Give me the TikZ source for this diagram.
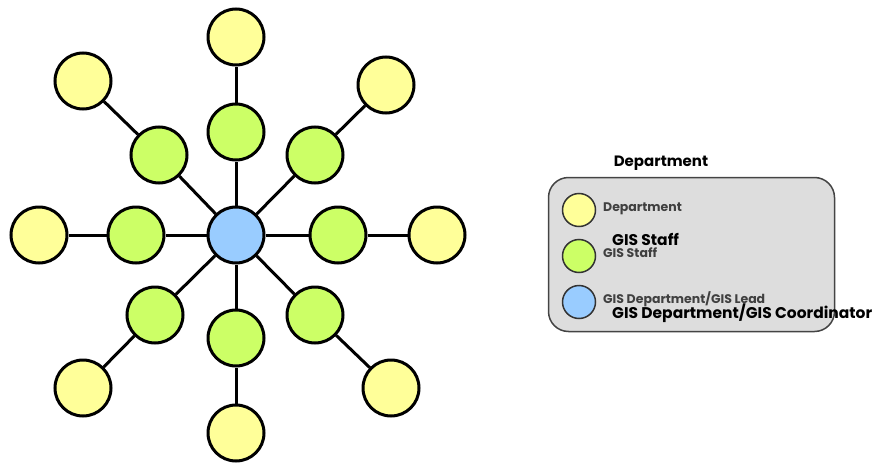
\documentclass[tikz,border=0pt]{standalone}
\usepackage{fontspec}
\setmainfont{Poppins}
\definecolor{deptyellow}{HTML}{FFFF99}
\definecolor{staffgreen}{HTML}{CCFF66}
\definecolor{leadblue}{HTML}{99CCFF}
\definecolor{legendfill}{HTML}{DDDDDD}
\definecolor{legendedge}{HTML}{444444}
\begin{document}
\begin{tikzpicture}[x=1pt,y=-1pt,
  hub/.style={circle,draw=black,line width=3pt,minimum size=56pt,inner sep=0pt},
  dept/.style={hub,fill=deptyellow},
  staff/.style={hub,fill=staffgreen},
  lead/.style={hub,fill=leadblue},
  link/.style={draw=black,line width=3pt},
  keydot/.style={circle,draw=black!80,line width=1.5pt,minimum size=33pt,inner sep=0pt},
  keysmall/.style={font=\bfseries\fontsize{12.5}{13}\selectfont,text=black!75,anchor=west,inner sep=0pt},
  keybig/.style={font=\bfseries\fontsize{15.5}{16}\selectfont,text=black,anchor=west,inner sep=0pt}]
\useasboundingbox (0,0) rectangle (881,463);
% network: coordinator, staff ring, departments
\node[lead] (c) at (236,235) {};
\foreach \n/\gx/\gy/\yx/\yy in {n/236/132/236/37, s/236/338/236/433,
    w/136/235/39/235, e/338/235/437/235,
    nw/159/155/83/81, ne/315/155/386/85,
    sw/155/315/83/388, se/315/315/391/388} {
  \node[staff] (g\n) at (\gx,\gy) {};
  \node[dept] (y\n) at (\yx,\yy) {};
}
\foreach \n in {n,s,w,e,nw,ne,sw,se} {
  \path[link] (c) -- (g\n);
  \path[link] (g\n) -- (y\n);
}
% legend
\node[font=\bfseries\fontsize{15}{16}\selectfont] (title) at (661,163) {Department};
\node[draw=legendedge,line width=1.5pt,fill=legendfill,rounded corners=20pt,
      minimum width=286pt,minimum height=154pt,inner sep=0pt] (box) at (691.5,254.5) {};
\node[keydot,fill=deptyellow] (k1) at (579,210) {};
\node[keydot,fill=staffgreen] (k2) at (579,256) {};
\node[keydot,fill=leadblue] (k3) at (579,302) {};
\node[keysmall] (t1) at (603,209) {Department};
\node[keysmall] (t2) at (603,253) {GIS Staff};
\node[keysmall] (t3) at (603,299) {GIS Department/GIS Lead};
\node[keybig] (b2) at (612,239) {GIS Staff};
\node[keybig] (b3) at (612,313) {GIS Department/GIS Coordinator};
\end{tikzpicture}
\end{document}
